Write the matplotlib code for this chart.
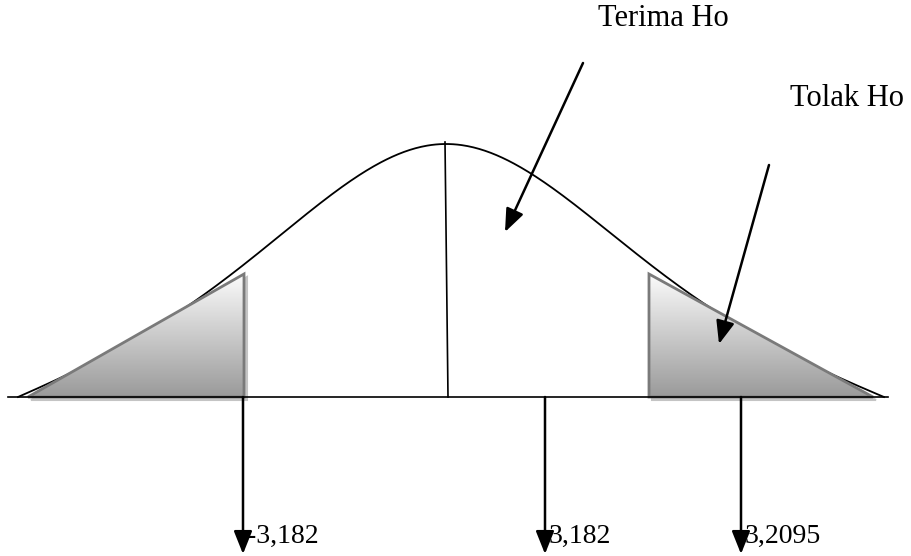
import numpy as np
import matplotlib
matplotlib.use("Agg")
import matplotlib.pyplot as plt
from matplotlib.patches import Polygon
from matplotlib.colors import LinearSegmentedColormap

#%% values (drawing is in pixel units, y pointing down)

crit_labels = ['-3,182', '3,182', '3,2095']
crit_x = [243, 545, 741]          # where each label arrow leaves the base line

region_labels = ['Terima Ho', 'Tolak Ho']

base_y = 397
peak = (446, 144)
curve_left, curve_right = 18, 884
cut_left, cut_right = 244, 649    # edges of the shaded rejection areas
tri_top = 274

#%% helpers

def bell(x):
    # hand drawn bell: round top (gaussian) blended with near straight tails
    dx = x - peak[0]
    half = np.where(dx < 0, peak[0] - curve_left, curve_right - peak[0])
    s, c, w = 150.0, 100.0, 0.45
    g_end = np.exp(-half**2 / (2 * s**2))
    g = (np.exp(-dx**2 / (2 * s**2)) - g_end) / (1 - g_end)
    hyp_end = np.sqrt(c**2 + half**2)
    t = (hyp_end - np.sqrt(c**2 + dx**2)) / (hyp_end - c)
    h = w * g + (1 - w) * t
    return base_y - (base_y - peak[1]) * h

def shaded(ax, pts):
    pts = np.array(pts, dtype=float)
    # soft shadow
    ax.add_patch(Polygon(pts + [3, 3], closed=True, fc='#c4c4c4', ec='#c4c4c4',
                         lw=1.5, zorder=2))
    poly = Polygon(pts, closed=True, fc='none', ec='#7a7a7a', lw=2, zorder=4)
    ax.add_patch(poly)
    cmap = LinearSegmentedColormap.from_list('g', ['#fbfbfb', '#9a9a9a'])
    grad = np.linspace(0, 1, 256).reshape(-1, 1)
    im = ax.imshow(grad, cmap=cmap, aspect='auto', zorder=3,
                   extent=[pts[:, 0].min(), pts[:, 0].max(),
                           pts[:, 1].max(), pts[:, 1].min()])
    im.set_clip_path(poly)

#%% draw

fig = plt.figure(figsize=(9.12, 5.56), dpi=100)
ax = fig.add_axes([0, 0, 1, 1])
ax.set_xlim(0, 912)
ax.set_ylim(556, 0)
ax.axis('off')

xs = np.linspace(curve_left, curve_right, 600)
ax.plot(xs, bell(xs), color='black', lw=1.3, zorder=1)

shaded(ax, [(28, base_y), (cut_left, tri_top), (cut_left, base_y)])
shaded(ax, [(cut_right, tri_top), (cut_right, base_y), (873, base_y)])

# base line and centre line
ax.plot([8, 888], [base_y, base_y], color='black', lw=1.2, zorder=5)
ax.plot([peak[0] - 1, peak[0] + 2], [peak[1] - 2, base_y], color='black', lw=1.2, zorder=5)

arrow = dict(arrowstyle='-|>,head_length=0.7,head_width=0.28', color='black',
             lw=1.8, mutation_scale=20, shrinkA=0, shrinkB=0)

for x, lab in zip(crit_x, crit_labels):
    ax.annotate('', xy=(x, 554), xytext=(x, base_y), arrowprops=arrow, zorder=6)
    ax.text(x + 4, 543, lab, fontsize=20, family='Liberation Serif',
            va='baseline', ha='left', zorder=5)

ax.text(598, 26, region_labels[0], fontsize=22, family='Liberation Serif', va='baseline')
ax.text(790, 106, region_labels[1], fontsize=22, family='Liberation Serif', va='baseline')
ax.annotate('', xy=(505, 232), xytext=(583, 63), arrowprops=arrow, zorder=6)
ax.annotate('', xy=(719, 344), xytext=(769, 165), arrowprops=arrow, zorder=6)

plt.savefig('out.png', dpi=100)
